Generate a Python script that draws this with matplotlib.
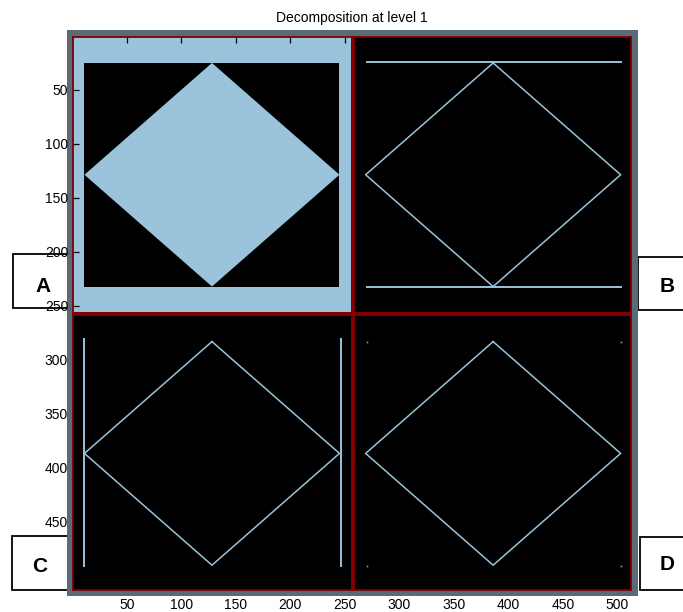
import matplotlib
matplotlib.use('Agg')
import matplotlib.pyplot as plt
from matplotlib.patches import Rectangle, Polygon

plt.rcParams['font.family'] = ['Liberation Sans', 'DejaVu Sans']

# ---- data ----
title = "Decomposition at level 1"
xticks = [50, 100, 150, 200, 250, 300, 350, 400, 450, 500]
yticks = [50, 100, 150, 200, 250, 300, 350, 400, 450]
image_size = 512
quad_offset = 258          # start of second subband (x and y)
divider = 257.5            # red separator between subbands

# geometry of one subband (local coordinates)
diamond_x = [128, 245, 128, 11, 128]
diamond_y = [25, 128.5, 232, 128.5, 25]
bbox_x = [11, 245]
bbox_y = [25, 232]
# B: horizontal detail lines
hline_x = [12, 245]
hline_y = [24, 232]
# C: vertical detail lines
vline_x = [11, 246]
vline_y = [23, 233]
# D: corner points
corner_x = [12, 245]
corner_y = [25, 233]

panel_labels = ['A', 'B', 'C', 'D']

# ---- style ----
light = '#9cc3dc'
red = '#800000'
frame_col = '#5a6a76'
W, H = 683, 612

fig = plt.figure(figsize=(W / 100, H / 100), dpi=100)
ax = fig.add_axes([73 / W, (H - 589.5) / H, 558 / W, 553 / H])
ax.set_facecolor('black')
ax.set_xlim(0.5, image_size + 0.5)
ax.set_ylim(image_size + 0.5, 0.5)

# A: approximation subband (filled)
ax.add_patch(Rectangle((0.5, 0.5), divider - 0.5, divider - 0.5,
                       facecolor=light, edgecolor='none', zorder=1))
ax.add_patch(Rectangle((bbox_x[0], bbox_y[0]), bbox_x[1] - bbox_x[0],
                       bbox_y[1] - bbox_y[0], facecolor='black',
                       edgecolor='none', zorder=1.5))
ax.add_patch(Polygon(list(zip(diamond_x, diamond_y)), closed=True,
                     facecolor=light, edgecolor='none', zorder=2))

lw = 1.1
# B: horizontal details (top-right)
bx = [x + quad_offset for x in diamond_x]
ax.plot(bx, diamond_y, color=light, lw=lw, zorder=2)
for y in hline_y:
    ax.plot([hline_x[0] + quad_offset, hline_x[1] + quad_offset], [y, y],
            color=light, lw=1.4, zorder=2)

# C: vertical details (bottom-left)
cy = [y + quad_offset for y in diamond_y]
ax.plot(diamond_x, cy, color=light, lw=lw, zorder=2)
for x in vline_x:
    ax.plot([x, x], [vline_y[0] + quad_offset, vline_y[1] + quad_offset],
            color=light, lw=1.4, zorder=2)

# D: diagonal details (bottom-right)
ax.plot(bx, cy, color=light, lw=lw, zorder=2)
for x in corner_x:
    for y in corner_y:
        ax.plot([x + quad_offset], [y + quad_offset], marker='s', ms=1.2,
                color='#8a9aa6', mec='none', zorder=2)

# separators
ax.axvline(divider, color=red, lw=2.9, zorder=3)
ax.axhline(divider, color=red, lw=2.9, zorder=3)

for s in ax.spines.values():
    s.set_color(red)
    s.set_linewidth(1.3)
    s.set_zorder(4)

ax.set_xticks(xticks)
ax.set_yticks(yticks)
ax.tick_params(direction='in', top=True, right=True, length=4.5, width=0.9,
               color='black', labelsize=10, labelcolor='black')
ax.tick_params(axis='x', pad=6)
ax.tick_params(axis='y', pad=3.5)

# gray frame behind the axes
fig.add_artist(Rectangle((67 / W, (H - 596) / H), 571 / W, 566 / H,
                         transform=fig.transFigure, facecolor=frame_col,
                         edgecolor='none', zorder=-1))

# label boxes
boxes = [(13, 254, 75, 308), (638, 257, 690, 310),
         (12, 536, 75, 590), (640, 537, 690, 590)]
letter_pos = [(43, 287), (667, 287), (40, 566), (667, 565)]
for (x0, y0, x1, y1), lab, (tx, ty) in zip(boxes, panel_labels, letter_pos):
    fig.add_artist(Rectangle((x0 / W, (H - y1) / H), (x1 - x0) / W, (y1 - y0) / H,
                             transform=fig.transFigure, facecolor='white',
                             edgecolor='black', lw=1.3, zorder=-3))
    fig.text(tx / W, 1 - ty / H, lab, ha='center', va='center',
             fontsize=15, fontweight='bold', zorder=-2)

fig.text(352 / W, 1 - 18 / H, title, ha='center', va='center', fontsize=10)

fig.savefig('out.png', dpi=100)
